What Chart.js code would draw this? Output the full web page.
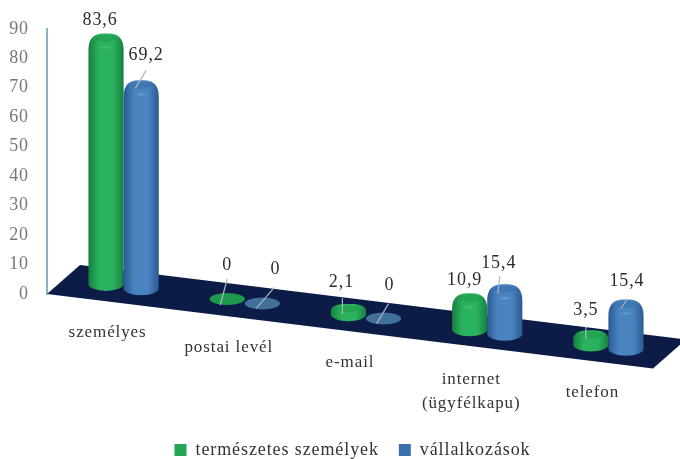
<!DOCTYPE html>
<html><head><meta charset="utf-8">
<style>html,body{margin:0;padding:0;background:#fff}canvas{display:block}</style>
<script src="https://cdn.jsdelivr.net/npm/chart.js@4"></script>
</head><body><canvas id="c" width="680" height="459"></canvas>
<script>
const categories = ['személyes','postai levél','e-mail',['internet','(ügyfélkapu)'],'telefon'];
const termeszetes = [83.6,0,2.1,10.9,3.5];
const vallalkozasok = [69.2,0,0,15.4,15.4];
const seriesNames = ['természetes személyek','vállalkozások'];
const yTicks = [0,10,20,30,40,50,60,70,80,90];

// oblique floor projection
const SLOPE = 0.125, DEPTH_X = 16, DEPTH_Y = 15.5, BACK_X = 33, BACK_Y = 29, FLOOR_SLOPE = 0.123;
const FONT = '"Liberation Serif", serif';
const SPACING = '0.9px';
const shades = {
  '#23a556': {edge:'#15803f', mid:'#2bb25f', cap:'#19903f', hi:'#4cc47c', flat:'#1d9a4e'},
  '#3a70ad': {edge:'#2a5a92', mid:'#4a84c0', cap:'#2f649f', hi:'#6fa6d8', flat:'#41709c'}
};
// label placement relative to the top of each cylinder: [dx,dy, leader from dx,dy, to dx,dy]
const labelPlacement = [
  [[-6,-17],[5,-29,5,-14,-6,4]],
  [[0,-34,0,-20,-7,6],[13,-34,12,-16,-6,5]],
  [[-7,-26,-6,-10,-6,6],[6,-33,5,-15,-7,5]],
  [[-5,-17],[-6,-25,-5,-12,-7,5]],
  [[-5,-24,-5,-8,-5,5],[1,-22,1,-4,-5,5]]
];

let theChart = null;
function floorShift(chart, ex){
  return -DEPTH_Y + SLOPE * (ex - chart.chartArea.left);
}
Chart.BarElement.prototype.draw = function(ctx){
  const chart = theChart;
  const s = shades[this.options.backgroundColor];
  const sh = floorShift(chart, this.x);
  const X = this.x + DEPTH_X, rx = this.width/2, ry = 6;
  const b = this.base + sh, t = this.y + sh;
  const l = X - rx, r = X + rx, h = b - t;
  ctx.save();
  if (h < 0.5) {
    ctx.fillStyle = s.flat;
    ctx.beginPath(); ctx.ellipse(X,b,rx,ry,0,0,Math.PI*2); ctx.fill();
    ctx.restore(); return;
  }
  const g = ctx.createLinearGradient(l,0,r,0);
  g.addColorStop(0,s.edge); g.addColorStop(0.3,s.mid); g.addColorStop(0.7,s.mid); g.addColorStop(1,s.edge);
  const top = t - 4;
  const sh2 = Math.min(16, h*0.5 + 4);
  ctx.fillStyle = g;
  ctx.beginPath();
  ctx.moveTo(l,b);
  ctx.ellipse(X,b,rx,ry+1,0,Math.PI,0,true);
  ctx.lineTo(r,top+sh2);
  ctx.bezierCurveTo(r,top+sh2*0.35,X+rx*0.7,top,X+rx*0.15,top);
  ctx.lineTo(X-rx*0.15,top);
  ctx.bezierCurveTo(X-rx*0.7,top,l,top+sh2*0.35,l,top+sh2);
  ctx.closePath();
  ctx.fill();
  // top cap
  ctx.fillStyle = s.cap;
  ctx.globalAlpha = 0.4;
  ctx.beginPath(); ctx.ellipse(X,t+1,rx*0.6,Math.min(3.5,h*0.3+1.5),0,0,Math.PI*2); ctx.fill();
  ctx.globalAlpha = 1;
  if (h > 20) {
    const hi = ctx.createRadialGradient(X,t+10,0,X,t+10,rx*0.5);
    hi.addColorStop(0,s.hi); hi.addColorStop(1,s.mid+'00');
    ctx.save();
    ctx.translate(0,(t+10)*(1-0.3)); ctx.scale(1,0.3);
    ctx.fillStyle = hi;
    ctx.beginPath(); ctx.arc(X,t+10,rx*0.5,0,Math.PI*2); ctx.fill();
    ctx.restore();
  }
  ctx.restore();
};

const scene = {
  id:'scene',
  beforeInit(chart){ theChart = chart; },
  beforeUpdate(chart){ chart.ctx.letterSpacing = SPACING; },
  afterLayout(chart){
    chart.legend.left += 26; chart.legend.right += 26;
    chart.legend.top += 10; chart.legend.bottom += 10;
    chart.ctx.letterSpacing = SPACING;
  },
  beforeDatasetsDraw(chart){
    const ctx = chart.ctx, a = chart.chartArea;
    const y0 = a.bottom, yr = y0 + FLOOR_SLOPE*(a.right-a.left);
    ctx.save();
    ctx.fillStyle = '#0c1c46';
    ctx.beginPath();
    ctx.moveTo(a.left,y0); ctx.lineTo(a.right,yr);
    ctx.lineTo(a.right+BACK_X,yr-BACK_Y); ctx.lineTo(a.left+BACK_X,y0-BACK_Y);
    ctx.closePath(); ctx.fill();
    ctx.restore();
    [0,1].forEach(i => chart.getDatasetMeta(i).controller.draw());
    return false;
  },
  afterDraw(chart){
    const ctx = chart.ctx, a = chart.chartArea, xs = chart.scales.x;
    ctx.save();
    ctx.letterSpacing = SPACING;
    // leader lines and value labels
    ctx.textAlign='center'; ctx.textBaseline='middle';
    [0,1].forEach(d => {
      chart.getDatasetMeta(d).data.forEach((el,i) => {
        const p = labelPlacement[i][d];
        const X = el.x + DEPTH_X, T = el.y + floorShift(chart, el.x);
        if (p.length > 2) {
          ctx.strokeStyle='#a9b6c2'; ctx.lineWidth=1.2;
          ctx.beginPath(); ctx.moveTo(X+p[2],T+p[3]); ctx.lineTo(X+p[4],T+p[5]); ctx.stroke();
        }
        ctx.fillStyle='#2b2b2b'; ctx.font='18px '+FONT;
        const v = chart.data.datasets[d].data[i];
        ctx.fillText(String(v).replace('.',','),X+p[0],T+p[1]);
      });
    });
    // category labels follow the front floor edge
    ctx.font='17px '+FONT; ctx.fillStyle='#333';
    categories.forEach((c,i) => {
      const x = xs.getPixelForTick(i), y = a.bottom + FLOOR_SLOPE*(x-a.left) + 31.5;
      if (Array.isArray(c)) { ctx.fillText(c[0],x,y+2); ctx.fillText(c[1],x,y+26); }
      else ctx.fillText(c,x,y);
    });
    ctx.restore();
  }
};

new Chart(document.getElementById('c'),{
  type:'bar',
  plugins:[scene],
  data:{
    labels:categories,
    datasets:[
      {label:seriesNames[0],data:termeszetes,backgroundColor:'#23a556'},
      {label:seriesNames[1],data:vallalkozasok,backgroundColor:'#3a70ad'}
    ]
  },
  options:{
    responsive:false, animation:false,
    layout:{padding:{top:28,right:27,left:0,bottom:0}},
    datasets:{bar:{categoryPercentage:0.58,barPercentage:1}},
    plugins:{
      tooltip:{enabled:false},
      legend:{
        position:'bottom',
        labels:{boxWidth:12,boxHeight:12,padding:20,color:'#333',font:{family:FONT,size:18}}
      }
    },
    scales:{
      x:{grid:{display:false},border:{display:false},ticks:{display:false},afterFit(s){ s.height = 117; }},
      y:{
        min:0,max:90,
        afterBuildTicks(s){ s.ticks = yTicks.map(v => ({value:v})); },
        afterFit(s){ s.width = 47; },
        grid:{display:false,drawTicks:false},
        border:{display:true,color:'#86b4c1',width:2},
        ticks:{padding:18,color:'#777',font:{family:FONT,size:18},callback:v=>v}
      }
    }
  }
});
</script></body></html>
